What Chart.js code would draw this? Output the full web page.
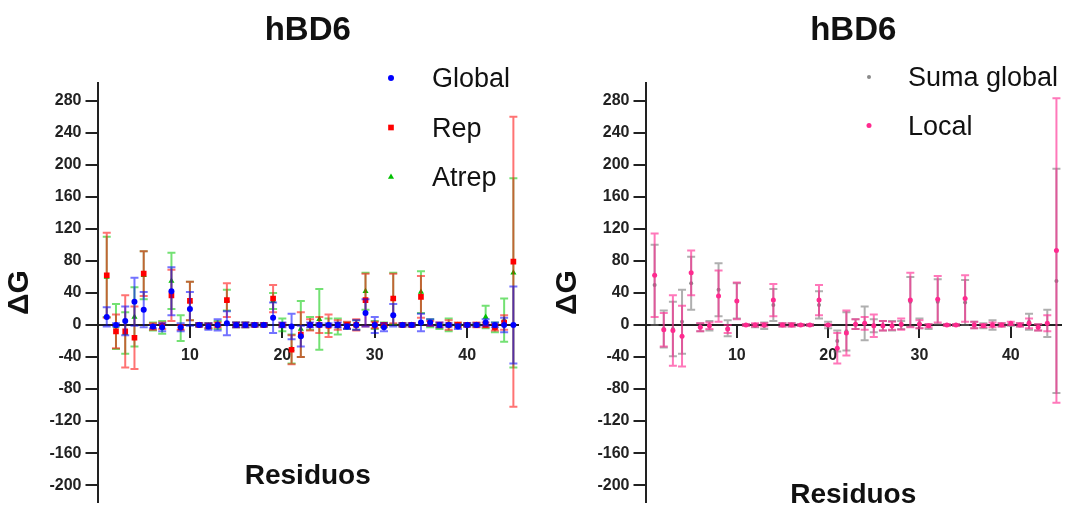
<!DOCTYPE html>
<html>
<head>
<meta charset="utf-8">
<title>hBD6</title>
<script src="https://cdn.jsdelivr.net/npm/chart.js@4.4.1/dist/chart.umd.min.js"></script>
<style>
  body { margin: 0; background: #fff; }
  canvas { position: absolute; top: 0; }
  #chartA { left: 0; }
  #chartB { left: 540px; }
</style>
</head>
<body>
<canvas id="chartA" width="540" height="508"></canvas>
<canvas id="chartB" width="525" height="508"></canvas>
<script>
// residue numbers 1..45
var residues = [];
for (var r = 1; r <= 45; r++) residues.push(r);

var yTicks = { min: -221, max: 302, step: 40 };

// left panel: Global / Rep / Atrep (value and +/- error)
var globalVals = [10, 0, 5, 29, 19, -2, -3, 42, -3, 20, 0, -2, 0, 2, 0, 0, 0, 0, 9, 0, -2, -14, 0, 0, 0, 0, -2, 0, 15, 0, -3, 12, 0, 0, 3, 3, 0, 0, -2, 0, 0, 3, 0, 0, 0];
var globalErr = [12, 2, 18, 30, 22, 2, 5, 30, 5, 21, 2, 4, 7, 15, 3, 3, 2, 2, 19, 3, 16, 13, 3, 2, 2, 3, 3, 6, 17, 10, 5, 14, 2, 2, 11, 4, 3, 2, 3, 2, 2, 4, 3, 9, 48];
var repVals = [62, -8, -8, -16, 64, -2, -1, 37, -3, 30, 0, -1, 0, 31, 0, 0, 0, 0, 33, 0, -31, -12, 0, 0, -1, 0, 0, 0, 31, 0, 0, 33, 0, 0, 35, 2, 0, 0, 0, 0, 0, 0, -3, 3, 79];
var repErr = [53, 21, 45, 39, 28, 4, 4, 32, 3, 24, 2, 3, 3, 21, 3, 3, 2, 2, 17, 2, 18, 28, 7, 10, 14, 6, 4, 7, 33, 4, 2, 31, 2, 2, 26, 3, 3, 6, 3, 2, 3, 3, 4, 9, 181];
var atrepVals = [60, -2, -10, 10, 62, -2, -3, 55, -4, 30, 0, -1, 0, 31, 0, 0, 0, 0, 30, 0, -30, -5, 2, 7, -1, -2, -1, 0, 42, 0, 0, 33, 0, 0, 41, 2, -2, 0, 0, 0, 0, 10, -3, 6, 65];
var atrepErr = [50, 28, 26, 37, 30, 5, 8, 35, 16, 24, 2, 3, 5, 13, 3, 3, 2, 2, 10, 8, 18, 35, 8, 38, 9, 10, 4, 6, 23, 5, 3, 32, 2, 2, 26, 5, 3, 8, 2, 2, 2, 14, 6, 27, 118];

// right panel: Suma global / Local
var sumaVals = [50, -5, -5, 4, 52, -3, -1, 44, -4, 30, 0, -1, -1, 25, 0, 0, 0, 0, 25, 0, -20, -8, 1, 2, -1, -1, -1, 0, 29, 2, -2, 29, 0, 0, 28, 0, -1, 0, 0, 0, 0, 4, -3, 2, 55];
var sumaErr = [50, 23, 34, 40, 33, 5, 6, 33, 10, 22, 1, 2, 4, 20, 2, 2, 1, 1, 17, 4, 13, 24, 6, 21, 8, 6, 6, 5, 31, 6, 3, 28, 1, 1, 28, 4, 3, 6, 2, 1, 2, 10, 4, 17, 140];
var localVals = [62, -6, -7, -14, 65, -3, -1, 36, -5, 30, 0, 0, 0, 31, 0, 0, 0, 0, 31, 0, -29, -10, 1, 2, -1, -1, -1, 1, 31, 1, -1, 32, 0, 0, 33, 0, -1, 0, 0, 2, 0, 2, -3, 2, 93];
var localErr = [52, 21, 44, 38, 28, 5, 4, 32, 5, 23, 1, 2, 2, 20, 2, 2, 1, 1, 19, 1, 19, 28, 6, 8, 14, 6, 5, 7, 34, 5, 2, 29, 1, 1, 29, 4, 2, 3, 2, 2, 2, 6, 4, 10, 190];

var fontFamily = "'Liberation Sans', Arial, sans-serif";
Chart.defaults.font.family = fontFamily;
Chart.defaults.color = "#1a1a1a";

function points(vals) {
  return residues.map(function (r, i) { return { x: r, y: vals[i] }; });
}

// vertical error bars with caps, drawn just under each dataset's markers
var errorBars = {
  id: "errorBars",
  beforeDatasetDraw: function (chart, args) {
    var ds = chart.data.datasets[args.index];
    if (!ds.errors) return;
    var ctx = chart.ctx;
    var yScale = chart.scales.y;
    ctx.save();
    ctx.strokeStyle = ds.errorColor;
    ctx.lineWidth = 2;
    args.meta.data.forEach(function (pt, i) {
      var v = ds.data[i].y, e = ds.errors[i];
      var top = yScale.getPixelForValue(v + e);
      var bot = yScale.getPixelForValue(v - e);
      ctx.beginPath();
      ctx.moveTo(pt.x, top);
      ctx.lineTo(pt.x, bot);
      ctx.moveTo(pt.x - 4, top);
      ctx.lineTo(pt.x + 4, top);
      ctx.moveTo(pt.x - 4, bot);
      ctx.lineTo(pt.x + 4, bot);
      ctx.stroke();
    });
    ctx.restore();
  }
};

function marker(ctx, style, x, y, rad) {
  ctx.beginPath();
  if (style === "rect") {
    var s = rad * Math.SQRT1_2;
    ctx.rect(x - s, y - s, 2 * s, 2 * s);
  } else if (style === "triangle") {
    ctx.moveTo(x, y - rad);
    ctx.lineTo(x + rad * 0.87, y + rad * 0.5);
    ctx.lineTo(x - rad * 0.87, y + rad * 0.5);
    ctx.closePath();
  } else {
    ctx.arc(x, y, rad, 0, Math.PI * 2);
  }
  ctx.fill();
}

// legend as a plain column of marker + label inside the plot
var columnLegend = {
  id: "columnLegend",
  afterDraw: function (chart, args, opts) {
    var ctx = chart.ctx;
    ctx.save();
    ctx.font = "27px " + fontFamily;
    ctx.textBaseline = "middle";
    chart.data.datasets.forEach(function (ds, i) {
      var y = opts.y + i * opts.gap;
      ctx.fillStyle = ds.backgroundColor;
      marker(ctx, ds.pointStyle, opts.x, y, ds.pointRadius);
      ctx.fillStyle = "#111";
      ctx.fillText(ds.label, opts.x + opts.textGap, y + 2);
    });
    ctx.restore();
  }
};

function scales(yAxisWidth, yTitlePad, xTitleDrop) {
  return {
    x: {
      type: "linear",
      min: 0,
      max: 45.5,
      position: { y: 0 },
      border: { color: "#222", width: 2 },
      grid: { drawOnChartArea: false, tickLength: 12, color: "#222", lineWidth: 2 },
      ticks: {
        stepSize: 10,
        includeBounds: false,
        maxRotation: 0,
        padding: 9,
        color: "#222",
        font: { size: 16, weight: "bold" },
        callback: function (v) { return v === 0 ? "" : v; }
      },
      title: { display: true, text: "Residuos", color: "#111", font: { size: 28, weight: "bold" }, padding: 0 },
      afterFit: function (s) {
        s.height = xTitleDrop;
        s.paddingLeft = 0;
        s.paddingRight = 0;
      }
    },
    y: {
      min: yTicks.min,
      max: yTicks.max,
      border: { color: "#222", width: 2 },
      grid: { drawOnChartArea: false, tickLength: 12, color: "#222", lineWidth: 2 },
      ticks: {
        stepSize: yTicks.step,
        includeBounds: false,
        padding: 4,
        color: "#222",
        font: { size: 16, weight: "bold" }
      },
      title: { display: true, text: "ΔG", color: "#111", font: { size: 30, weight: "bold" }, padding: { top: yTitlePad, bottom: 0 } },
      afterFit: function (s) {
        s.width = yAxisWidth;
        s.paddingTop = 0;
        s.paddingBottom = 0;
      }
    }
  };
}

function titleOpts() {
  return {
    display: true,
    text: "hBD6",
    fullSize: false,
    color: "#111",
    font: { size: 33, weight: "bold" },
    padding: { top: 11, bottom: 32.4 }
  };
}

new Chart(document.getElementById("chartA"), {
  type: "scatter",
  data: {
    datasets: [
      {
        label: "Global",
        data: points(globalVals),
        errors: globalErr,
        errorColor: "rgba(0, 0, 255, 0.55)",
        backgroundColor: "#0000ff",
        borderWidth: 0,
        pointStyle: "circle",
        pointRadius: 3
      },
      {
        label: "Rep",
        data: points(repVals),
        errors: repErr,
        errorColor: "rgba(255, 0, 0, 0.55)",
        backgroundColor: "#ff0000",
        borderWidth: 0,
        pointStyle: "rect",
        pointRadius: 4
      },
      {
        label: "Atrep",
        data: points(atrepVals),
        errors: atrepErr,
        errorColor: "rgba(0, 200, 0, 0.55)",
        backgroundColor: "#00c000",
        borderWidth: 0,
        pointStyle: "triangle",
        pointRadius: 3.5
      }
    ]
  },
  options: {
    responsive: false,
    animation: false,
    layout: { padding: { top: 0, left: 0, right: 22, bottom: 6 } },
    scales: scales(97.5, 2, 168),
    plugins: {
      title: titleOpts(),
      legend: { display: false },
      tooltip: { enabled: false },
      columnLegend: { x: 391, y: 78, gap: 49.5, textGap: 41 }
    }
  },
  plugins: [errorBars, columnLegend]
});

new Chart(document.getElementById("chartB"), {
  type: "scatter",
  data: {
    datasets: [
      {
        label: "Suma global",
        data: points(sumaVals),
        errors: sumaErr,
        errorColor: "rgba(110, 110, 110, 0.55)",
        backgroundColor: "#8a8a8a",
        borderWidth: 0,
        pointStyle: "circle",
        pointRadius: 2,
        order: 1
      },
      {
        label: "Local",
        data: points(localVals),
        errors: localErr,
        errorColor: "rgba(255, 30, 140, 0.6)",
        backgroundColor: "#ff2a8f",
        borderWidth: 0,
        pointStyle: "circle",
        pointRadius: 2.5,
        order: 0
      }
    ]
  },
  options: {
    responsive: false,
    animation: false,
    layout: { padding: { top: 0, left: 0, right: 0, bottom: 6 } },
    scales: scales(105.5, 9.5, 187),
    plugins: {
      title: titleOpts(),
      legend: { display: false },
      tooltip: { enabled: false },
      columnLegend: { x: 329, y: 77, gap: 48.5, textGap: 39 }
    }
  },
  plugins: [errorBars, columnLegend]
});
</script>
</body>
</html>
